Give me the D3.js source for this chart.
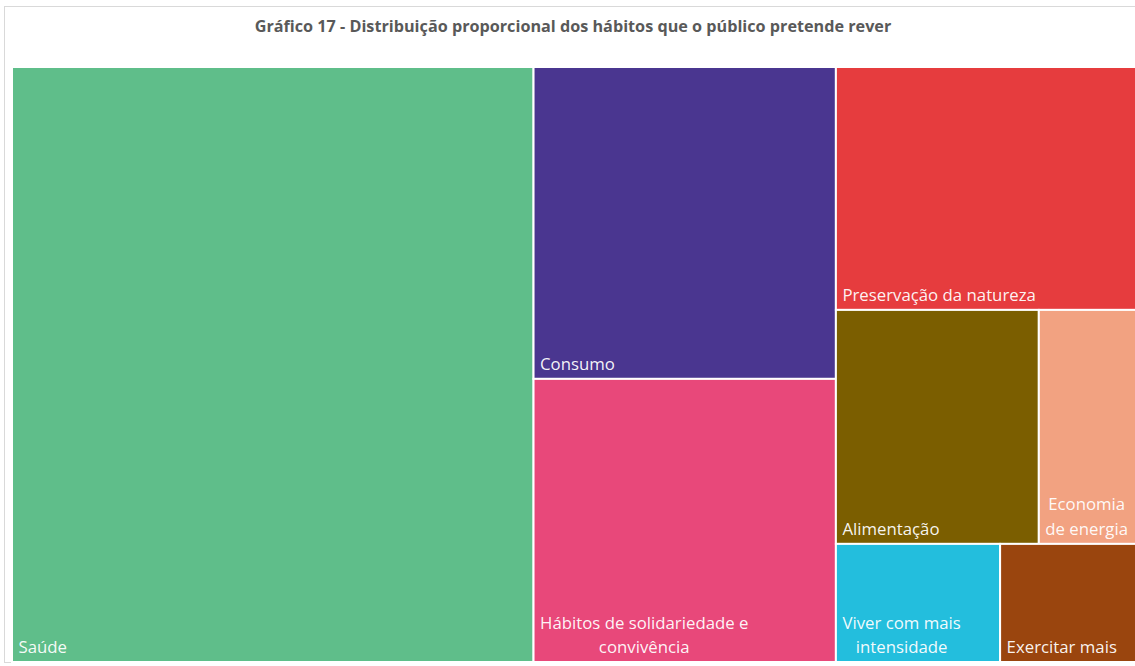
<!DOCTYPE html>
<html>
<head>
<meta charset="utf-8">
<script src="https://cdn.jsdelivr.net/npm/d3@7"></script>
<style>
  html, body { margin: 0; padding: 0; background: #fff; }
  svg { display: block; }
  text { font-family: "Open Sans", "Noto Sans", sans-serif; }
</style>
</head>
<body>
<svg id="chart" width="1135" height="666"></svg>
<script>
// ---- data ----
const title = "Gráfico 17 - Distribuição proporcional dos hábitos que o público pretende rever";
const categories = ["Saúde", "Consumo", "Hábitos de solidariedade e convivência", "Preservação da natureza",
                    "Alimentação", "Economia de energia", "Viver com mais intensidade", "Exercitar mais"];
const values = [46.4, 14.1, 12.8, 10.9, 7.1, 3.4, 2.9, 2.4];
const colors = ["#5FBE8A", "#4A3690", "#E8487A", "#E63C3E", "#7B5E00", "#F2A281", "#23BEDD", "#9A450E"];

// layout config (Excel-like treemap grouping)
const rowSizes = [1, 2, 1, 2, 2];
const rowOrient = ["slice", "slice", "dice", "dice", "dice"];

const W = 1135, H = 666;
const svg = d3.select("#chart");

// chart frame
svg.append("rect")
  .attr("x", 4.5).attr("y", 6.5).attr("width", 1140).attr("height", 656)
  .attr("fill", "#fff").attr("stroke", "#D9D9D9").attr("stroke-width", 1);

svg.append("text")
  .attr("x", 573).attr("y", 32)
  .attr("text-anchor", "middle")
  .attr("font-size", 16.2).attr("font-weight", "bold")
  .attr("fill", "#595959")
  .text(title);

function excelTile(parent, x0, y0, x1, y1) {
  const nodes = parent.children;
  let value = parent.value, i = 0;
  rowSizes.forEach((k, r) => {
    const kids = nodes.slice(i, i + k);
    const row = { children: kids, value: d3.sum(kids, d => d.value) };
    const dx = x1 - x0, dy = y1 - y0;
    if (rowOrient[r] === "dice") {
      const yb = r === rowSizes.length - 1 ? y1 : y0 + dy * row.value / value;
      d3.treemapDice(row, x0, y0, x1, yb); y0 = yb;
    } else {
      const xb = r === rowSizes.length - 1 ? x1 : x0 + dx * row.value / value;
      d3.treemapSlice(row, x0, y0, xb, y1); x0 = xb;
    }
    value -= row.value; i += k;
  });
}

const data = { children: categories.map((c, i) => ({ name: c, value: values[i], color: colors[i] })) };
const root = d3.hierarchy(data).sum(d => d.value || 0);
d3.treemap().tile(excelTile).size([1124, 595]).round(false)(root);

const g = svg.append("g").attr("transform", "translate(12,67)");
const cells = g.selectAll("g.cell").data(root.leaves()).join("g").attr("class", "cell");

cells.append("rect")
  .attr("x", d => d.x0).attr("y", d => d.y0)
  .attr("width", d => d.x1 - d.x0).attr("height", d => d.y1 - d.y0)
  .attr("fill", d => d.data.color)
  .attr("stroke", "#fff").attr("stroke-width", 2);

const fs = 16.8, lh = 24.5;
cells.each(function(d) {
  const sel = d3.select(this);
  const maxW = d.x1 - d.x0 - 10;
  const words = d.data.name.split(" ");
  const t = sel.append("text").attr("font-size", fs).attr("fill", "#fff").attr("fill-opacity", 0.95);
  // word wrap
  const lines = [];
  let cur = [];
  const probe = t.append("tspan");
  words.forEach(w => {
    const test = cur.concat([w]).join(" ");
    probe.text(test);
    if (probe.node().getComputedTextLength() > maxW && cur.length) {
      lines.push(cur.join(" ")); cur = [w];
    } else cur.push(w);
  });
  lines.push(cur.join(" "));
  probe.remove();
  const widths = lines.map(l => { const s = t.append("tspan").text(l); const w = s.node().getComputedTextLength(); s.remove(); return w; });
  const blockW = d3.max(widths);
  const left = d.x0 + 6.5;
  const cx = left + blockW / 2;
  const baseBottom = d.y1 - 9;
  lines.forEach((l, i) => {
    t.append("tspan")
      .attr("x", lines.length > 1 ? cx : left)
      .attr("y", baseBottom - (lines.length - 1 - i) * lh)
      .attr("text-anchor", lines.length > 1 ? "middle" : "start")
      .text(l);
  });
});
</script>
</body>
</html>
